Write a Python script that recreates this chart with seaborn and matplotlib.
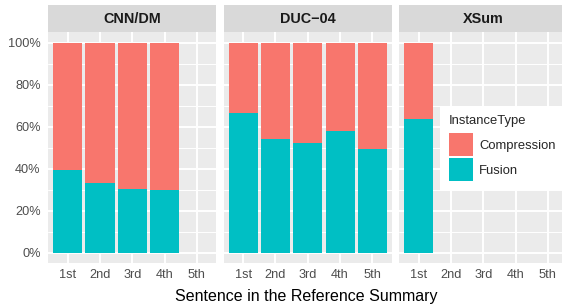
import matplotlib
matplotlib.use("Agg")
import matplotlib.pyplot as plt
import matplotlib.ticker as mticker
from matplotlib.patches import Patch, Rectangle
import pandas as pd
import seaborn as sns

POSITIONS = ["1st", "2nd", "3rd", "4th", "5th"]
DATASETS = ["CNN/DM", "DUC\u221204", "XSum"]

# share of instances per summary sentence
cnn_fusion = [0.392, 0.332, 0.304, 0.297]
cnn_compression = [0.608, 0.668, 0.696, 0.703]
duc_fusion = [0.667, 0.541, 0.522, 0.578, 0.494]
duc_compression = [0.333, 0.459, 0.478, 0.422, 0.506]
xsum_fusion = [0.636]
xsum_compression = [0.364]

COLORS = {"Compression": "#F8766D", "Fusion": "#00BFC4"}

W, H = 562, 306


def build_frame():
    rows = []
    series = {
        DATASETS[0]: (cnn_fusion, cnn_compression),
        DATASETS[1]: (duc_fusion, duc_compression),
        DATASETS[2]: (xsum_fusion, xsum_compression),
    }
    for name, (fus, comp) in series.items():
        for pos, f, c in zip(POSITIONS, fus, comp):
            rows.append({"dataset": name, "position": pos, "Fusion": f, "Compression": c})
    df = pd.DataFrame(rows)
    df["total"] = df["Fusion"] + df["Compression"]
    return df


def px_axes(fig, x0, y0, w, h):
    return fig.add_axes([x0 / W, 1 - (y0 + h) / H, w / W, h / H])


sns.set_theme(style="darkgrid", rc={"axes.facecolor": "#EBEBEB", "grid.color": "white"})
plt.rcParams["font.family"] = ["Liberation Sans", "DejaVu Sans"]

df = build_frame()
fig = plt.figure(figsize=(W / 100, H / 100), dpi=100)
fig.patch.set_facecolor("white")

panel_left = [48.3, 223.8, 399.3]
panel_top, panel_w, panel_h = 32.3, 168, 231
strip_h = 27.3

for i, name in enumerate(DATASETS):
    ax = px_axes(fig, panel_left[i], panel_top, panel_w, panel_h)
    sub = df[df["dataset"] == name]

    # stacked bars: full height in compression colour, fusion drawn over it
    sns.barplot(data=sub, x="position", y="total", order=POSITIONS,
                color=COLORS["Compression"], saturation=1, width=0.9,
                errorbar=None, linewidth=0, ax=ax)
    sns.barplot(data=sub, x="position", y="Fusion", order=POSITIONS,
                color=COLORS["Fusion"], saturation=1, width=0.9,
                errorbar=None, linewidth=0, ax=ax)

    ax.set_xlim(-0.6, 4.6)
    ax.set_ylim(-0.05, 1.05)
    ax.set_xlabel("")
    ax.set_ylabel("")
    ax.set_yticks([0, 0.2, 0.4, 0.6, 0.8, 1.0])
    ax.set_yticks([0.1, 0.3, 0.5, 0.7, 0.9], minor=True)
    ax.yaxis.set_major_formatter(mticker.PercentFormatter(1.0, decimals=0))
    ax.set_axisbelow(True)
    ax.grid(which="major", color="white", linewidth=1.4)
    ax.grid(which="minor", axis="y", color="white", linewidth=0.7)
    ax.tick_params(which="minor", length=0)
    ax.tick_params(axis="both", which="major", length=2.6, width=0.8,
                   color="#333333", labelcolor="#4D4D4D", labelsize=9.2)
    ax.tick_params(axis="y", pad=2.9)
    ax.tick_params(axis="x", pad=1.8)
    if i > 0:
        ax.tick_params(axis="y", left=False, labelleft=False)
    for s in ax.spines.values():
        s.set_visible(False)

    # facet strip
    ax.add_patch(Rectangle((0, 1), 1, strip_h / panel_h, transform=ax.transAxes,
                           clip_on=False, facecolor="#D9D9D9", edgecolor="none"))
    ax.text(0.5, 1 + strip_h / 2 / panel_h, name, transform=ax.transAxes,
            ha="center", va="center", fontsize=10.4, fontweight="bold", color="#1A1A1A")

fig.text(306.5 / W, (H - 301) / H, "Sentence in the Reference Summary",
         ha="center", va="baseline", fontsize=11.5, color="black")

handles = [Patch(facecolor=COLORS[k], edgecolor="none", label=k) for k in ["Compression", "Fusion"]]
leg = fig.legend(handles=handles, title="InstanceType", loc="upper left",
                 bbox_to_anchor=(440 / W, 1 - 106 / H), bbox_transform=fig.transFigure,
                 borderaxespad=0, fontsize=9.4, title_fontsize=9.4, frameon=True,
                 fancybox=False, edgecolor="none", facecolor="white", framealpha=1,
                 borderpad=0.69, handlelength=1.84, handleheight=2.33,
                 handletextpad=0.45, labelspacing=0.15, alignment="left")
# a bit more room between the title and the keys, as in ggplot
leg._legend_box.sep = 4.5

fig.savefig("out.png", dpi=100)
